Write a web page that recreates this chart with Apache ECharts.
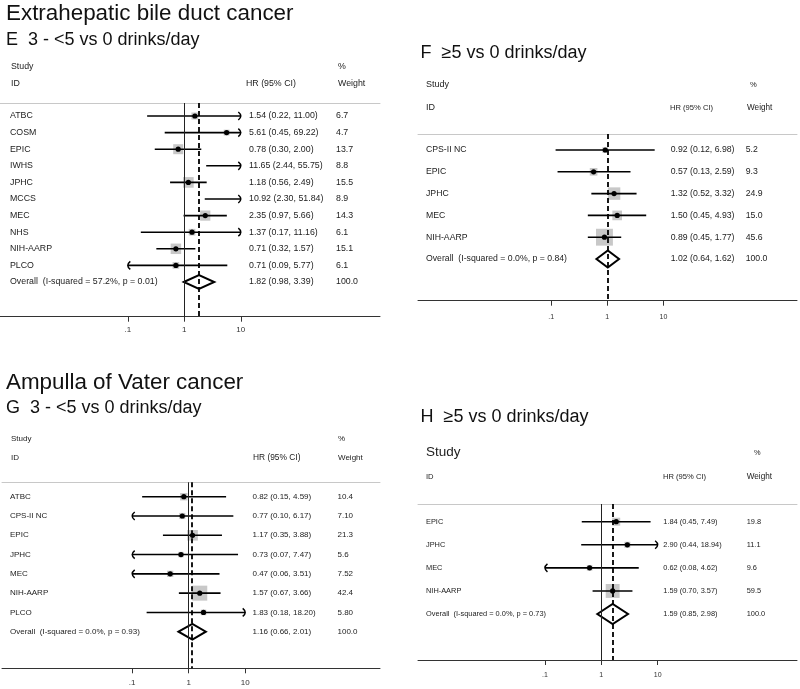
<!DOCTYPE html>
<html><head><meta charset="utf-8">
<script src="https://cdn.jsdelivr.net/npm/echarts@6/dist/echarts.min.js"></script>
<style>html,body{margin:0;padding:0;background:#fff}#c{width:800px;height:689px}</style>
</head><body><div id="c"></div>
<script>
// ---------------- data ----------------
const tickValues = [0.1, 1, 10];
const tickLabels = ['.1', '1', '10'];

// E: Extrahepatic bile duct cancer, 3 - <5 vs 0 drinks/day
const studiesE = ['ATBC', 'COSM', 'EPIC', 'IWHS', 'JPHC', 'MCCS', 'MEC', 'NHS', 'NIH-AARP', 'PLCO'];
const hrE = [1.54, 5.61, 0.78, 11.65, 1.18, 10.92, 2.35, 1.37, 0.71, 0.71];
const loE = [0.22, 0.45, 0.30, 2.44, 0.56, 2.30, 0.97, 0.17, 0.32, 0.09];
const hiE = [11.00, 69.22, 2.00, 55.75, 2.49, 51.84, 5.66, 11.16, 1.57, 5.77];
const weightE = ['6.7', '4.7', '13.7', '8.8', '15.5', '8.9', '14.3', '6.1', '15.1', '6.1'];
const overallLabelE = 'Overall  (I-squared = 57.2%, p = 0.01)';
const overallE = [1.82, 0.98, 3.39];
const overallWeightE = '100.0';

// F: Extrahepatic bile duct cancer, >=5 vs 0 drinks/day
const studiesF = ['CPS-II NC', 'EPIC', 'JPHC', 'MEC', 'NIH-AARP'];
const hrF = [0.92, 0.57, 1.32, 1.50, 0.89];
const loF = [0.12, 0.13, 0.52, 0.45, 0.45];
const hiF = [6.98, 2.59, 3.32, 4.93, 1.77];
const weightF = ['5.2', '9.3', '24.9', '15.0', '45.6'];
const overallLabelF = 'Overall  (I-squared = 0.0%, p = 0.84)';
const overallF = [1.02, 0.64, 1.62];
const overallWeightF = '100.0';

// G: Ampulla of Vater cancer, 3 - <5 vs 0 drinks/day
const studiesG = ['ATBC', 'CPS-II NC', 'EPIC', 'JPHC', 'MEC', 'NIH-AARP', 'PLCO'];
const hrG = [0.82, 0.77, 1.17, 0.73, 0.47, 1.57, 1.83];
const loG = [0.15, 0.10, 0.35, 0.07, 0.06, 0.67, 0.18];
const hiG = [4.59, 6.17, 3.88, 7.47, 3.51, 3.66, 18.20];
const weightG = ['10.4', '7.10', '21.3', '5.6', '7.52', '42.4', '5.80'];
const overallLabelG = 'Overall  (I-squared = 0.0%, p = 0.93)';
const overallG = [1.16, 0.66, 2.01];
const overallWeightG = '100.0';

// H: Ampulla of Vater cancer, >=5 vs 0 drinks/day
const studiesH = ['EPIC', 'JPHC', 'MEC', 'NIH-AARP'];
const hrH = [1.84, 2.90, 0.62, 1.59];
const loH = [0.45, 0.44, 0.08, 0.70];
const hiH = [7.49, 18.94, 4.62, 3.57];
const weightH = ['19.8', '11.1', '9.6', '59.5'];
const overallLabelH = 'Overall  (I-squared = 0.0%, p = 0.73)';
const overallH = [1.59, 0.85, 2.98];
const overallWeightH = '100.0';

// ---------------- layout / style ----------------
const FONT = '"Liberation Sans", Arial, Helvetica, sans-serif';
const panels = [
  { studies: studiesE, hr: hrE, lo: loE, hi: hiE, w: weightE, ovLabel: overallLabelE, ov: overallE, ovW: overallWeightE,
    left: 0, right: 380, top: 103, bottom: 316.7, one: 184.3, dec: 56.5, row0: 116, rowH: 16.6,
    colStudy: 10, colHR: 249, colW: 336, font: 8.8, boxK: 2.7, diaH: 7, nullLine: true, tickFont: 8, tickMargin: 9.5,
    headers: [['Study', 11, 67, 8.8], ['%', 338, 67, 8.8], ['ID', 11, 84, 8.8], ['HR (95% CI)', 246, 84, 8.8], ['Weight', 338, 84, 8.8]],
    titles: [['Extrahepatic bile duct cancer', 6, 13.5, 22.4], ['E  3 - <5 vs 0 drinks/day', 6, 40.5, 18]] },
  { studies: studiesF, hr: hrF, lo: loF, hi: hiF, w: weightF, ovLabel: overallLabelF, ov: overallF, ovW: overallWeightF,
    left: 418, right: 797, top: 134, bottom: 300.7, one: 607.3, dec: 56.15, row0: 150, rowH: 21.8,
    colStudy: 426, colHR: 670.7, colW: 745.7, font: 8.7, boxK: 2.5, diaH: 8.5, nullLine: false, tickFont: 7, tickMargin: 12.5,
    headers: [['Study', 426, 85, 9], ['%', 750, 85, 7.6], ['ID', 426, 108, 9], ['HR (95% CI)', 670, 108, 7.6], ['Weight', 747, 108, 8.2]],
    titles: [['F  \u22655 vs 0 drinks/day', 420.5, 53, 18]] },
  { studies: studiesG, hr: hrG, lo: loG, hi: hiG, w: weightG, ovLabel: overallLabelG, ov: overallG, ovW: overallWeightG,
    left: 2, right: 380, top: 482.3, bottom: 668.3, one: 188.7, dec: 56.5, row0: 496.7, rowH: 19.29,
    colStudy: 10, colHR: 252.5, colW: 337.5, font: 8, boxK: 2.3, diaH: 7.8, nullLine: true, tickFont: 8, tickMargin: 10,
    headers: [['Study', 11, 439, 8], ['%', 338, 439, 8], ['ID', 11, 458, 8], ['HR (95% CI)', 253, 458, 8.4], ['Weight', 338, 458, 8]],
    titles: [['Ampulla of Vater cancer', 6, 383, 22.4], ['G  3 - <5 vs 0 drinks/day', 6, 408, 18]] },
  { studies: studiesH, hr: hrH, lo: loH, hi: hiH, w: weightH, ovLabel: overallLabelH, ov: overallH, ovW: overallWeightH,
    left: 418, right: 797, top: 504, bottom: 660, one: 601.3, dec: 56.35, row0: 521.7, rowH: 23.08,
    colStudy: 426, colHR: 663.3, colW: 746.7, font: 7.4, boxK: 1.8, diaH: 10, nullLine: true, tickFont: 7, tickMargin: 11.5,
    headers: [['Study', 426, 452.7, 13.5], ['%', 754, 452.5, 7.4], ['ID', 426, 476.7, 7.6], ['HR (95% CI)', 663, 476.7, 7.6], ['Weight', 746.7, 476.7, 8.2]],
    titles: [['H  \u22655 vs 0 drinks/day', 420.5, 416.7, 18]] }
];

const fmt = v => v.toFixed(2);
const grids = [], xAxes = [], yAxes = [], series = [], graphics = [];

panels.forEach((p, gi) => {
  const n = p.studies.length;
  const xmin = (p.left - p.one) / p.dec, xmax = (p.right - p.one) / p.dec;
  const ymin = -(p.row0 - p.top) / p.rowH, ymax = (p.bottom - p.row0) / p.rowH;
  grids.push({ left: p.left, top: p.top, width: p.right - p.left, height: p.bottom - p.top, containLabel: false });
  const tickLog = tickValues.map(v => Math.log10(v));
  xAxes.push({
    gridIndex: gi, type: 'value', min: xmin, max: xmax, position: 'bottom',
    axisLine: { show: true, onZero: false, lineStyle: { color: '#333', width: 1 } },
    axisTick: { show: true, customValues: tickLog, length: 5, lineStyle: { color: '#333', width: 1 } },
    axisLabel: { show: true, customValues: tickLog, fontSize: p.tickFont, fontFamily: FONT, color: '#333', margin: p.tickMargin,
      formatter: v => { const k = tickLog.findIndex(t => Math.abs(t - v) < 1e-6); return k >= 0 ? tickLabels[k] : ''; } },
    splitLine: { show: false }
  });
  xAxes.push({
    gridIndex: gi, type: 'value', min: xmin, max: xmax, position: 'top',
    axisLine: { show: true, onZero: false, lineStyle: { color: '#c8c8c8', width: 1 } },
    axisTick: { show: false }, axisLabel: { show: false }, splitLine: { show: false }
  });
  yAxes.push({ gridIndex: gi, type: 'value', inverse: true, min: ymin, max: ymax, show: false, axisLine: { onZero: false } });

  const meta = [];
  const data = [];
  for (let i = 0; i < n; i++) {
    data.push([Math.log10(p.hr[i]), i, Math.log10(p.lo[i]), Math.log10(p.hi[i]), parseFloat(p.w[i])]);
    meta.push({ label: p.studies[i], hrText: fmt(p.hr[i]) + ' (' + fmt(p.lo[i]) + ', ' + fmt(p.hi[i]) + ')', wText: p.w[i], overall: false });
  }
  data.push([Math.log10(p.ov[0]), n, Math.log10(p.ov[1]), Math.log10(p.ov[2]), parseFloat(p.ovW)]);
  meta.push({ label: p.ovLabel, hrText: fmt(p.ov[0]) + ' (' + fmt(p.ov[1]) + ', ' + fmt(p.ov[2]) + ')', wText: p.ovW, overall: true });

  const txt = (t, x, y, size) => ({ type: 'text', silent: true,
    style: { text: t, x: x, y: y, fill: '#222', font: size + 'px ' + FONT, align: 'left', verticalAlign: 'middle' } });

  const lines = [];
  if (p.nullLine) lines.push({ xAxis: 0, lineStyle: { type: 'solid', color: '#222', width: 1 } });
  lines.push({ xAxis: Math.log10(p.ov[0]), lineStyle: { type: [5, 3], color: '#000', width: 1.8 } });

  series.push({
    type: 'custom', xAxisIndex: 2 * gi, yAxisIndex: gi, data: data, clip: false, silent: true,
    renderItem: (params, api) => {
      const r = meta[params.dataIndex];
      const est = api.value(0), row = api.value(1), lo = api.value(2), hi = api.value(3), w = api.value(4);
      const y = api.coord([0, row])[1];
      const X = v => api.coord([v, row])[0];
      const ch = [];
      ch.push(txt(r.label, p.colStudy, y, p.font));
      ch.push(txt(r.hrText, p.colHR, y, p.font));
      ch.push(txt(r.wText, p.colW, y, p.font));
      const lim0 = -1, lim1 = 1;
      if (r.overall) {
        ch.push({ type: 'polygon', shape: { points: [[X(lo), y], [X(est), y - p.diaH], [X(hi), y], [X(est), y + p.diaH]] },
          style: { fill: 'rgba(255,255,255,0)', stroke: '#000', lineWidth: 2 } });
      } else {
        if (est >= lim0 && est <= lim1) {
          const s = p.boxK * Math.sqrt(w);
          ch.push({ type: 'rect', shape: { x: X(est) - s / 2, y: y - s / 2, width: s, height: s }, style: { fill: '#c8c8c8' } });
        }
        const a = Math.max(lo, lim0), b = Math.min(hi, lim1);
        if (b > a) ch.push({ type: 'line', shape: { x1: X(a), y1: y, x2: X(b), y2: y }, style: { stroke: '#000', lineWidth: 1.6 } });
        if (lo <= lim0 + 1e-9) {
          const x0 = X(lim0);
          ch.push({ type: 'bezierCurve', shape: { x1: x0 + 2.5, y1: y - 4, x2: x0 + 2.5, y2: y + 4, cpx1: x0 - 2.5, cpy1: y },
            style: { stroke: '#000', lineWidth: 1.5, fill: null } });
        }
        if (hi > lim1) {
          const x1 = X(lim1);
          ch.push({ type: 'bezierCurve', shape: { x1: x1 - 2.5, y1: y - 4, x2: x1 - 2.5, y2: y + 4, cpx1: x1 + 2.5, cpy1: y },
            style: { stroke: '#000', lineWidth: 1.5, fill: null } });
        }
        if (est >= lim0 && est <= lim1) {
          ch.push({ type: 'circle', shape: { cx: X(est), cy: y, r: 2.6 }, style: { fill: '#000' } });
        }
      }
      return { type: 'group', children: ch };
    },
    markLine: { silent: true, symbol: ['none', 'none'], label: { show: false }, animation: false, data: lines }
  });

  p.headers.forEach(h => graphics.push({ type: 'text', x: h[1], y: h[2], silent: true,
    style: { text: h[0], fill: '#222', font: h[3] + 'px ' + FONT, align: 'left', verticalAlign: 'middle' } }));
  p.titles.forEach(h => graphics.push({ type: 'text', x: h[1], y: h[2], silent: true,
    style: { text: h[0], fill: '#111', font: h[3] + 'px ' + FONT, align: 'left', verticalAlign: 'middle' } }));
});

const chart = echarts.init(document.getElementById('c'), null, { renderer: 'canvas' });
chart.setOption({
  backgroundColor: '#fff',
  animation: false,
  grid: grids, xAxis: xAxes, yAxis: yAxes, series: series,
  graphic: graphics
});
</script>
</body></html>
